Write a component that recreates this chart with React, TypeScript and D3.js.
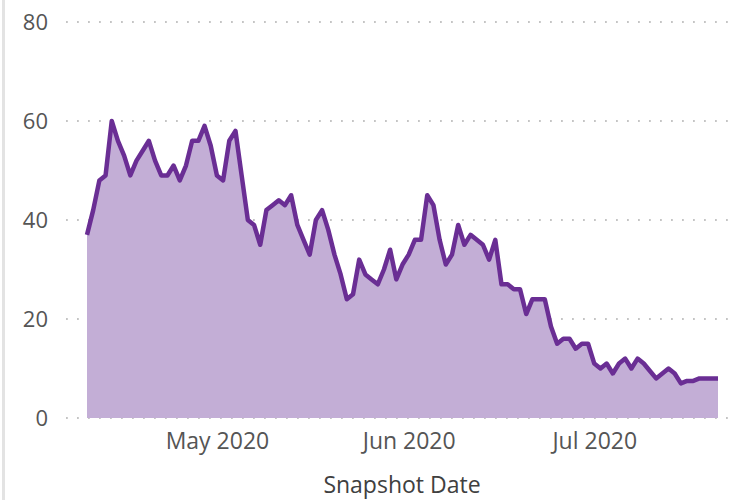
import React, { useEffect, useRef } from "react";
import * as d3 from "d3";

const startDate = "2020-04-10";
const endDate = "2020-07-21";
const values: number[] = [
  37, 42, 48, 49, 60, 56, 53, 49, 52, 54,
  56, 52, 49, 49, 51, 48, 51, 56, 56, 59,
  55, 49, 48, 56, 58, 49, 40, 39, 35, 42,
  43, 44, 43, 45, 39, 36, 33, 40, 42, 38,
  33, 29, 24, 25, 32, 29, 28, 27, 30, 34,
  28, 31, 33, 36, 36, 45, 43, 36, 31, 33,
  39, 35, 37, 36, 35, 32, 36, 27, 27, 26,
  26, 21, 24, 24, 24, 18.5, 15, 16, 16, 14,
  15, 15, 11, 10, 11, 9, 11, 12, 10, 12,
  11, 9.5, 8, 9, 10, 9, 7, 7.5, 7.5, 8,
  8, 8, 8,
];
const xTickDates = ["2020-05-01", "2020-06-01", "2020-07-01"];
const yTicks = [0, 20, 40, 60, 80];
const xTitle = "Snapshot Date";

const W = 735;
const H = 500;

export default function App() {
  const ref = useRef<SVGSVGElement>(null);

  useEffect(() => {
    const svg = d3.select(ref.current);
    svg.selectAll("*").remove();
    const parse = d3.utcParse("%Y-%m-%d");
    const s = parse(startDate)!;
    const e = parse(endDate)!;
    const dates = d3.utcDay.range(s, d3.utcDay.offset(e, 1));
    const data = values.map((v, i) => ({ d: dates[i], v }));

    const x = d3.scaleUtc().domain([s, e]).range([87, 718]);
    const y = d3.scaleLinear().domain([0, 80]).range([418, 22]);

    const font = "'Open Sans', 'Noto Sans', sans-serif";

    // left border
    svg.append("rect").attr("x", 2).attr("y", 0).attr("width", 3).attr("height", H).attr("fill", "#e3e3e3");

    // gridlines
    svg
      .append("g")
      .selectAll("line")
      .data(yTicks)
      .join("line")
      .attr("x1", 66)
      .attr("x2", W)
      .attr("y1", (d) => y(d))
      .attr("y2", (d) => y(d))
      .attr("stroke", "#c4c4c4")
      .attr("stroke-width", 1.8)
      .attr("stroke-dasharray", "1.8,9.2");

    // y tick labels
    svg
      .append("g")
      .selectAll("text")
      .data(yTicks)
      .join("text")
      .attr("x", 48)
      .attr("y", (d) => y(d))
      .attr("dy", "0.36em")
      .attr("text-anchor", "end")
      .attr("font-family", font)
      .attr("font-size", 22)
      .attr("fill", "#555555")
      .text((d) => String(d));

    // area
    const area = d3
      .area<{ d: Date; v: number }>()
      .x((p) => x(p.d))
      .y0(y(0))
      .y1((p) => y(p.v));
    svg.append("path").datum(data).attr("d", area).attr("fill", "#c3aed6");

    const line = d3
      .line<{ d: Date; v: number }>()
      .x((p) => x(p.d))
      .y((p) => y(p.v));
    svg
      .append("path")
      .datum(data)
      .attr("d", line)
      .attr("fill", "none")
      .attr("stroke", "#6a2e94")
      .attr("stroke-width", 4.5)
      .attr("stroke-linejoin", "round");

    // x axis
    const xt = xTickDates.map((t) => parse(t)!);
    const axis = d3
      .axisBottom(x)
      .tickValues(xt)
      .tickSize(0)
      .tickPadding(0)
      .tickFormat((d) => d3.utcFormat("%b %Y")(d as Date));
    const g = svg.append("g").attr("transform", `translate(0,449)`).call(axis);
    g.select(".domain").remove();
    g.selectAll("text")
      .attr("font-family", font)
      .attr("font-size", 23)
      .attr("fill", "#555555")
      .attr("y", 0)
      .attr("dy", "0");

    svg
      .append("text")
      .attr("x", 402)
      .attr("y", 493)
      .attr("text-anchor", "middle")
      .attr("font-family", font)
      .attr("font-size", 23)
      .attr("fill", "#404040")
      .text(xTitle);
  }, []);

  return (
    <div style={{ position: "absolute", left: 0, top: 0, width: W, height: H, background: "#fff" }}>
      <svg ref={ref} width={W} height={H} />
    </div>
  );
}
